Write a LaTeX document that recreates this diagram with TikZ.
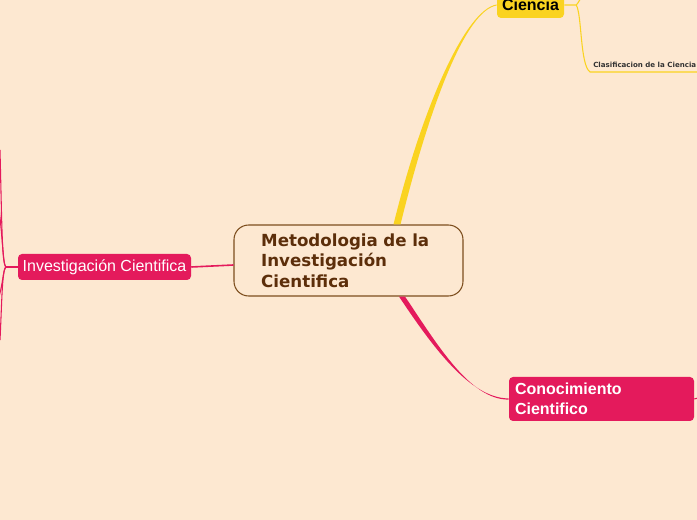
\documentclass[tikz,border=0pt]{standalone}
\usepackage{fontspec}
\setmainfont{Liberation Sans}
\newfontfamily\dejavu{DejaVu Sans}
\usetikzlibrary{calc}

\definecolor{peach}{RGB}{253,232,209}
\definecolor{crimson}{RGB}{228,26,92}
\definecolor{gold}{RGB}{250,211,32}
\definecolor{bark}{RGB}{125,78,30}
\definecolor{barktext}{RGB}{92,46,10}

\begin{document}
\begin{tikzpicture}[x=0.75pt,y=-0.75pt,
  mainbox/.style={draw=bark,line width=0.8pt,rounded corners=11pt,fill=peach,
    text=barktext,font=\dejavu\bfseries\fontsize{12.5}{15.4}\selectfont,
    minimum width=171.75pt,minimum height=53.25pt,text width=131pt,
    align=left,inner xsep=20.25pt},
  topic/.style={rounded corners=3pt,fill=crimson,text=white,inner sep=0pt,
    font=\fontsize{12}{15}\selectfont},
  twig/.style={line width=0.8pt}]

% background
\fill[peach] (0,0) rectangle (697,520);
\useasboundingbox (0,0) rectangle (697,520);
\clip (0,0) rectangle (697,520);

% nodes
\node[mainbox] (meto) at (348.5,260.5) {Metodologia de la\\Investigación\\Cientifica};
\node[topic,minimum width=129.75pt,minimum height=19.5pt] (inve) at (104.5,267)
    {Investigación Cientifica};
\node[topic,font=\bfseries\fontsize{12}{15}\selectfont,minimum width=138.75pt,
    minimum height=33pt,text width=129.75pt,align=left,inner xsep=4.5pt] (cono)
    at (601.5,399) {Conocimiento\\Cientifico};
\node[topic,fill=gold,text=black,font=\bfseries\fontsize{12}{15}\selectfont,
    minimum width=50.25pt,minimum height=19.5pt] (cien) at (530.5,5) {Ciencia};
\node[font=\dejavu\bfseries\fontsize{5.3}{6}\selectfont,text=black!80,
    anchor=base west,inner sep=0pt] (clas) at (593,67.5) {Clasificacion de la Ciencia};

% main branches (tapered)
\coordinate (y0) at ($(meto.north)+(48.5,0)$);
\fill[gold] ($(y0)+(-3.5,0)$) .. controls (421.5,110) and (465,9.5) .. ($(cien.west)+(0,-0.5)$)
    -- ($(cien.west)+(0,0.5)$) .. controls (465,10.5) and (428.5,110) .. ($(y0)+(3.5,0)$) -- cycle;

\coordinate (k0) at ($(meto.south)+(53.5,0)$);
\fill[crimson] ($(k0)+(-3,0)$) .. controls (432,346) and (470,398.5) .. ($(cono.west)+(0,-0.6)$)
    -- ($(cono.west)+(0,0.6)$) .. controls (470,400) and (437,344) .. ($(k0)+(3,0)$) -- cycle;

\draw[crimson,line width=1.2pt] ($(meto.west)+(0,4.5)$) -- (inve.east);

% ciencia sub branches
\coordinate (cfork) at ($(cien.east)+(12,0)$);
\coordinate (cup) at (582,-4);
\coordinate (cline) at (590,72);
\coordinate (cend) at (697,72);
\draw[gold,twig] (cien.east) -- (cfork) .. controls (579,2) and (580,-1) .. (cup);
\draw[gold,twig] (cfork) .. controls (582,15) and (580,65) .. (cline) -- (cend);

% conocimiento stub
\coordinate (kend) at (698,398);
\draw[crimson,twig] (cono.east) -- (kend);

% investigacion sub branches
\coordinate (ifork) at ($(inve.west)+(-12,0)$);
\coordinate (iup1) at (0,150);
\coordinate (iup2) at (-2,200);
\coordinate (idn1) at (-2,300);
\coordinate (idn2) at (0,340);
\draw[crimson,line width=1pt] (inve.west) -- (ifork);
\draw[crimson,twig] (ifork) .. controls (2,262) and (2,230) .. (iup1);
\draw[crimson,twig] (ifork) .. controls (3,264) and (3,240) .. (iup2);
\draw[crimson,twig] (ifork) .. controls (3,270) and (3,285) .. (idn1);
\draw[crimson,twig] (ifork) .. controls (2,272) and (2,300) .. (idn2);

\end{tikzpicture}
\end{document}
